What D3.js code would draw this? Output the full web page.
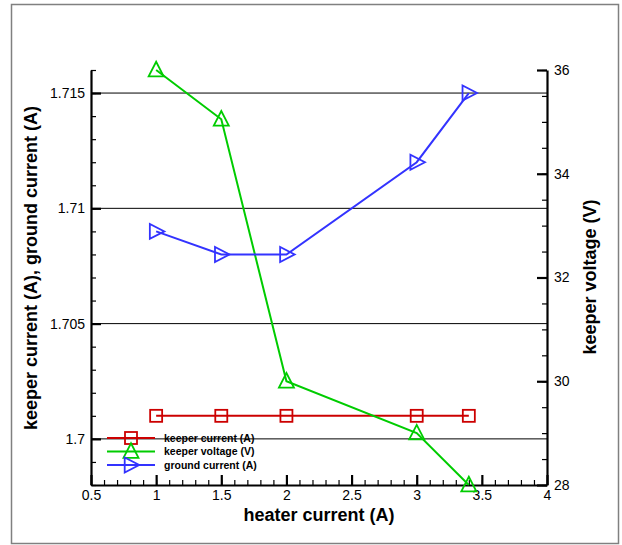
<!DOCTYPE html>
<html>
<meta charset="utf-8">
<title>keeper / heater current</title>
<style>
body { margin: 0; background: #fff; }
text { font-family: Arial, "Liberation Sans", sans-serif; }
.tick text { font-size: 14px; fill: #000; }
.title { font-size: 18px; font-weight: bold; }
.leg { font-size: 10.5px; font-weight: bold; }
</style>
<body>
<svg id="chart" width="622" height="545"></svg>
<script src="https://cdn.jsdelivr.net/npm/d3@7"></script>
<script>
// data
var heaterCurrent = [1, 1.5, 2, 3, 3.4];
var keeperCurrent = [1.701, 1.701, 1.701, 1.701, 1.701];
var keeperVoltage = [36, 35.05, 30, 29, 28];
var groundCurrent = [1.709, 1.708, 1.708, 1.712, 1.715];

var xTicks = [0.5, 1, 1.5, 2, 2.5, 3, 3.5, 4];
var yLeftTicks = [1.7, 1.705, 1.71, 1.715];
var yRightTicks = [28, 30, 32, 34, 36];
var legendNames = ["keeper current (A)", "keeper voltage (V)", "ground current (A)"];

var svg = d3.select("#chart");
var L = 91, R = 547, T = 70, B = 485;

// outer frame
svg.append("rect")
  .attr("x", 11.5).attr("y", 4.5).attr("width", 607).attr("height", 539)
  .attr("fill", "none").attr("stroke", "#808080").attr("stroke-width", 1.5);

var x = d3.scaleLinear().domain([0.5, 4]).range([L, R]);
var yL = d3.scaleLinear().domain([1.698, 1.716]).range([B, T]);
var yR = d3.scaleLinear().domain([28, 36]).range([B, T]);

// grid lines at left major ticks
svg.append("g").selectAll("line").data(yLeftTicks).enter().append("line")
  .attr("x1", L).attr("x2", R)
  .attr("y1", function(d){ return yL(d); }).attr("y2", function(d){ return yL(d); })
  .attr("stroke", "#000").attr("stroke-width", 1);

function minors(scale, step) {
  var d = scale.domain(), out = [];
  for (var v = d[0]; v <= d[1] + step / 2; v += step) out.push(+v.toFixed(6));
  return out;
}

// minor ticks (inward)
svg.append("g").attr("transform", "translate(0," + B + ")")
  .call(d3.axisBottom(x).tickValues(minors(x, 0.1)).tickSize(-5).tickFormat(""))
  .call(function(g){ g.select(".domain").remove(); g.selectAll("line").attr("stroke-width", 1.2); });
svg.append("g").attr("transform", "translate(" + L + ",0)")
  .call(d3.axisLeft(yL).tickValues(minors(yL, 0.001)).tickSize(-5).tickFormat(""))
  .call(function(g){ g.select(".domain").remove(); g.selectAll("line").attr("stroke-width", 1.2); });
svg.append("g").attr("transform", "translate(" + R + ",0)")
  .call(d3.axisRight(yR).tickValues(minors(yR, 0.5)).tickSize(-5).tickFormat(""))
  .call(function(g){ g.select(".domain").remove(); g.selectAll("line").attr("stroke-width", 1.2); });

// major axes
var xAxis = svg.append("g").attr("transform", "translate(0," + B + ")")
  .call(d3.axisBottom(x).tickValues(xTicks).tickSize(-10).tickPadding(5).tickSizeOuter(0)
    .tickFormat(d3.format("~g")));
var yAxisL = svg.append("g").attr("transform", "translate(" + L + ",0)")
  .call(d3.axisLeft(yL).tickValues(yLeftTicks).tickSize(-10).tickPadding(6).tickSizeOuter(0)
    .tickFormat(d3.format("~g")));
var yAxisR = svg.append("g").attr("transform", "translate(" + R + ",0)")
  .call(d3.axisRight(yR).tickValues(yRightTicks).tickSize(-10).tickPadding(7).tickSizeOuter(0));
[xAxis, yAxisL, yAxisR].forEach(function(g){
  g.attr("font-family", null).attr("font-size", null);
  g.select(".domain").attr("stroke", "#000").attr("stroke-width", 2.2);
  g.selectAll(".tick line").attr("stroke", "#000").attr("stroke-width", 2.2);
});

// axis titles
svg.append("text").attr("class", "title").attr("text-anchor", "middle")
  .attr("x", (L + R) / 2).attr("y", 521).text("heater current (A)");
svg.append("text").attr("class", "title").attr("text-anchor", "middle")
  .attr("transform", "translate(37," + 268 + ") rotate(-90)")
  .text("keeper current (A), ground current (A)");
svg.append("text").attr("class", "title").attr("text-anchor", "middle")
  .attr("transform", "translate(596," + 277 + ") rotate(-90)")
  .text("keeper voltage (V)");

// markers
function square(g, s) { return g.append("rect").attr("x", -s/2).attr("y", -s/2).attr("width", s).attr("height", s); }
function triUp(g, s) { return g.append("path").attr("d", "M0," + (-s*0.55) + "L" + (s/2) + "," + (s*0.42) + "L" + (-s/2) + "," + (s*0.42) + "Z"); }
function triRight(g, s) { return g.append("path").attr("d", "M" + (s*0.55) + ",0L" + (-s*0.42) + "," + (s/2) + "L" + (-s*0.42) + "," + (-s/2) + "Z"); }

var series = [
  { vals: keeperCurrent, y: yL, color: "#cc0000", mark: square, size: 12 },
  { vals: keeperVoltage, y: yR, color: "#00cc00", mark: triUp, size: 15 },
  { vals: groundCurrent, y: yL, color: "#3333ff", mark: triRight, size: 15 }
];

var line = d3.line();
series.forEach(function(s){
  var pts = heaterCurrent.map(function(h, i){ return [x(h), s.y(s.vals[i])]; });
  svg.append("path").attr("d", line(pts)).attr("fill", "none")
    .attr("stroke", s.color).attr("stroke-width", 2);
  pts.forEach(function(p){
    var g = svg.append("g").attr("transform", "translate(" + p[0] + "," + p[1] + ")");
    s.mark(g, s.size).attr("fill", "none").attr("stroke", s.color).attr("stroke-width", 1.8);
  });
});

// legend
var leg = svg.append("g").attr("transform", "translate(107,438)");
series.forEach(function(s, i){
  var row = leg.append("g").attr("transform", "translate(0," + (i * 13.5) + ")");
  row.append("line").attr("x1", 0).attr("x2", 48).attr("stroke", s.color).attr("stroke-width", 2);
  s.mark(row.append("g").attr("transform", "translate(24,0)"), s.size)
    .attr("fill", "none").attr("stroke", s.color).attr("stroke-width", 1.8);
  row.append("text").attr("class", "leg").attr("x", 57).attr("dy", "0.35em").text(legendNames[i]);
});
</script>
</body>
</html>
